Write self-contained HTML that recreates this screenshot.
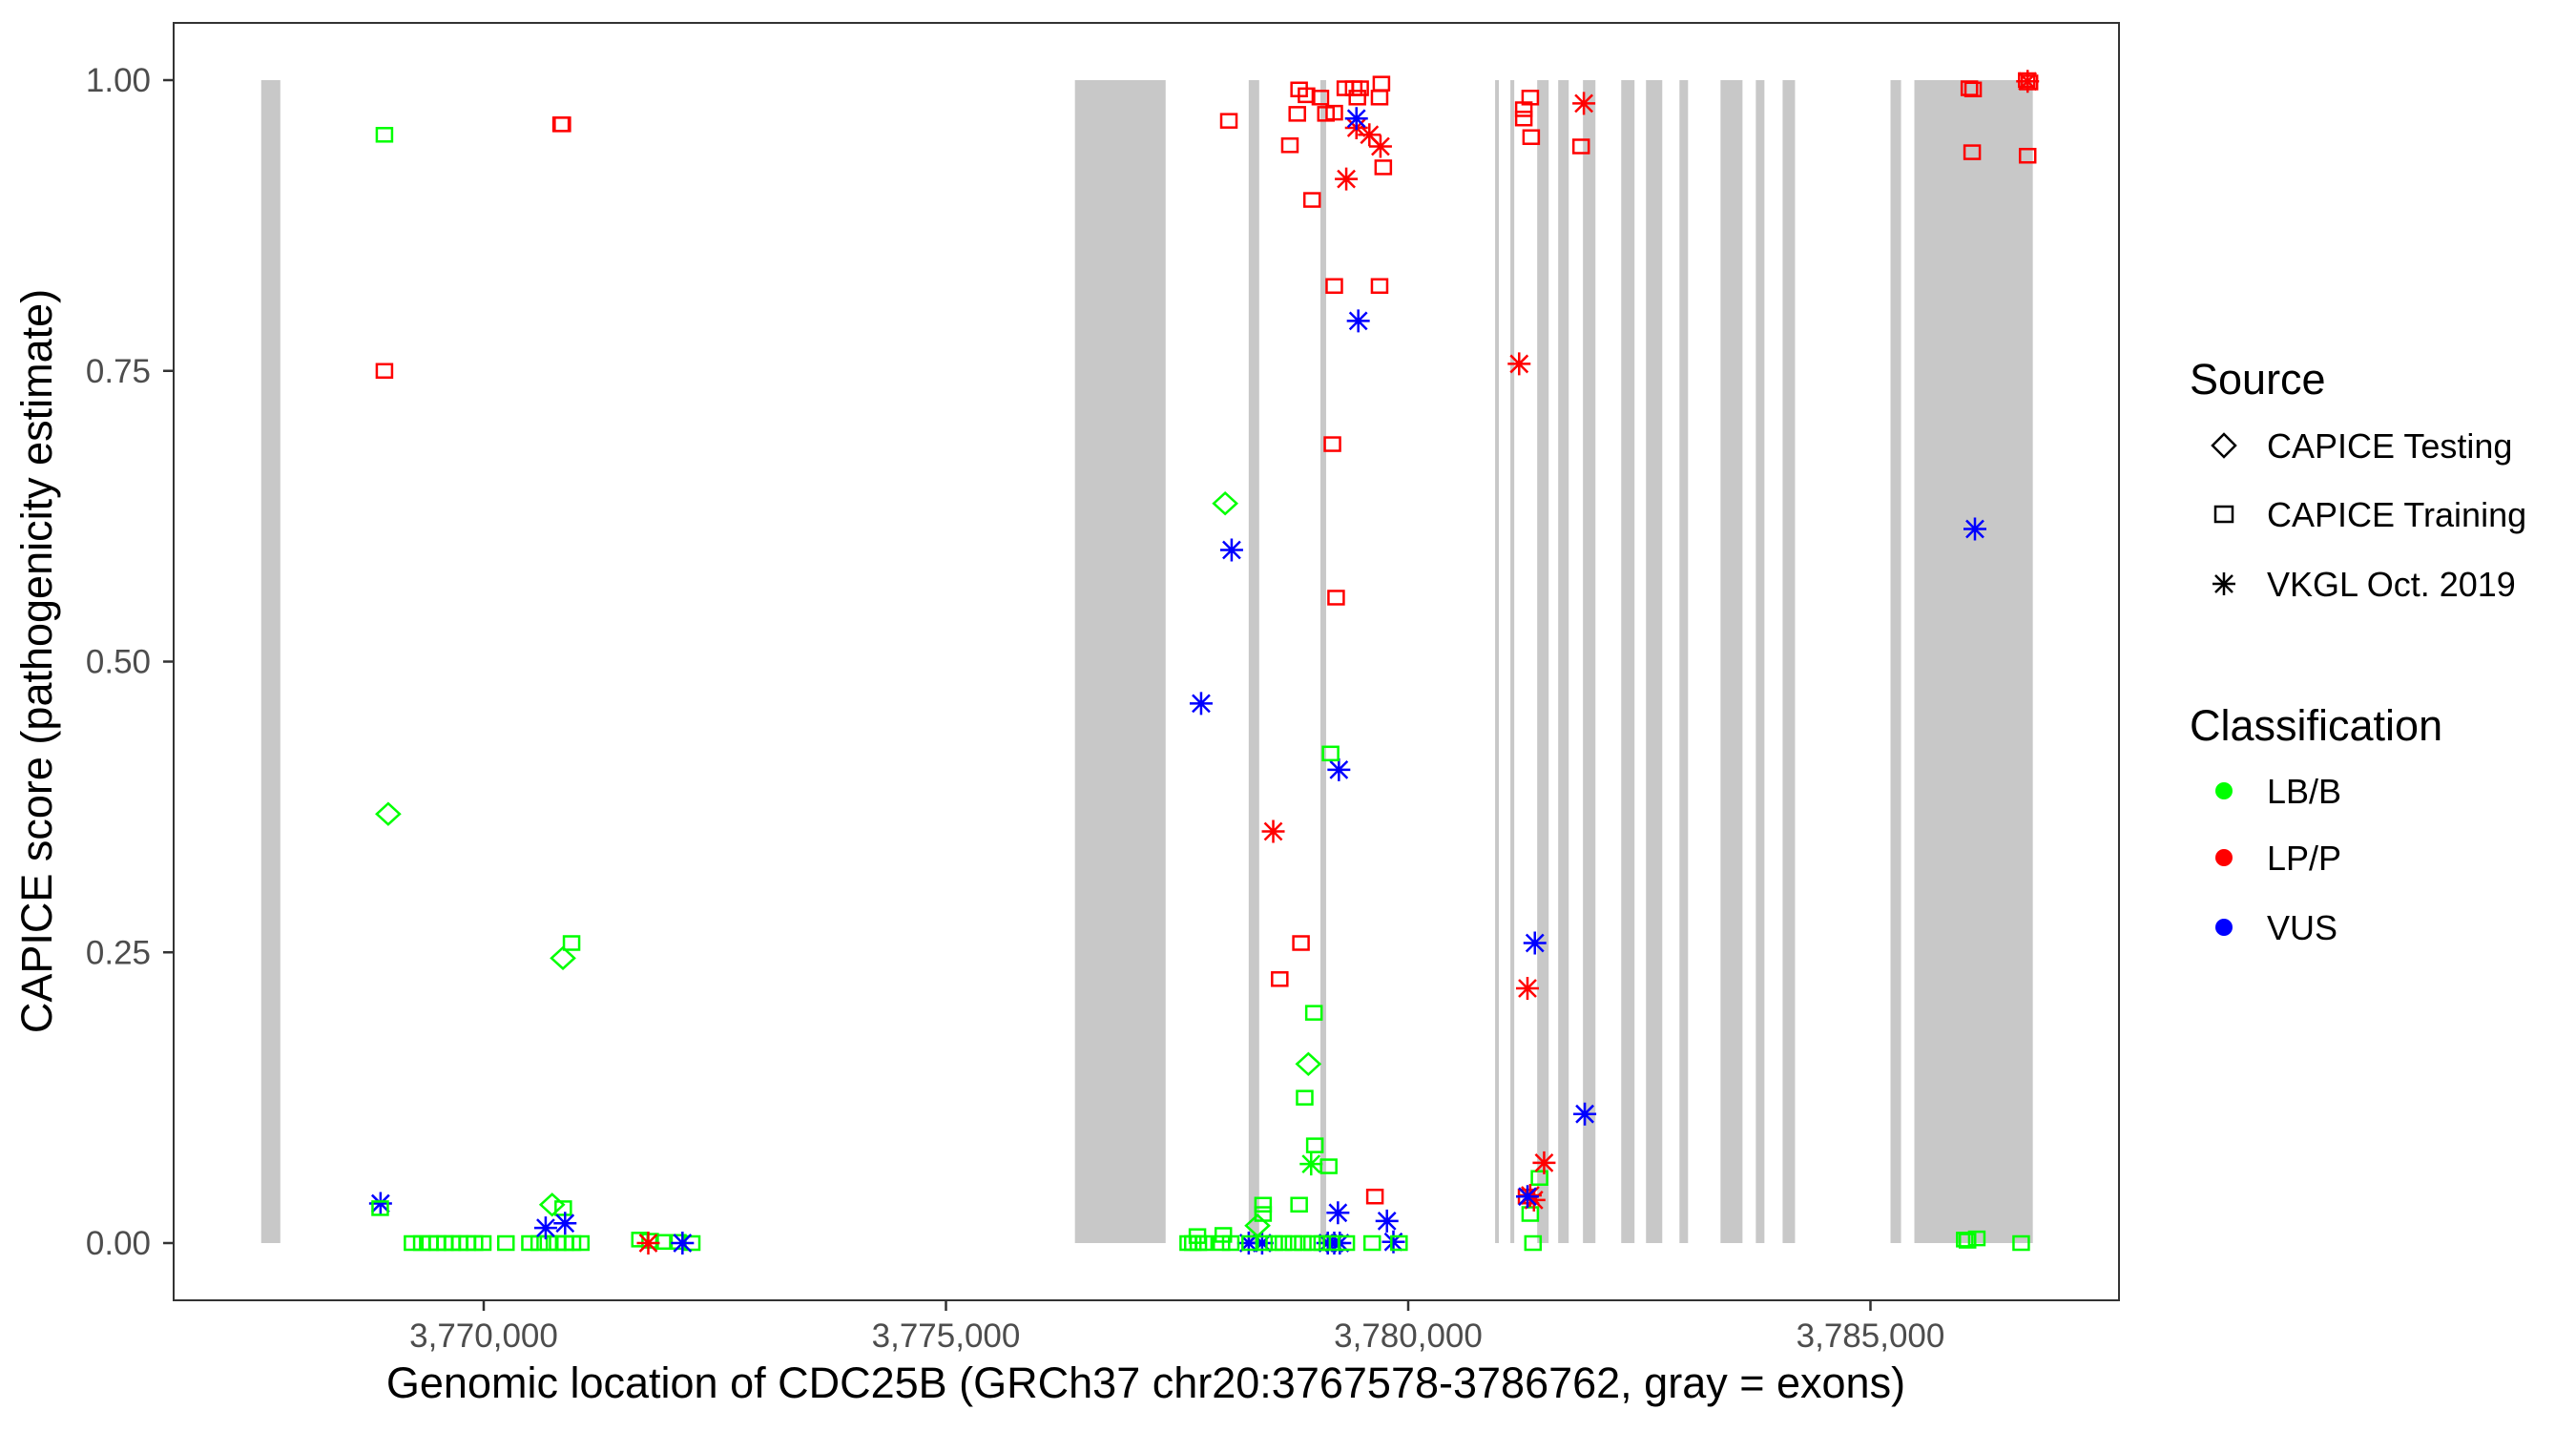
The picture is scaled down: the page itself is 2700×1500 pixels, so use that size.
<!DOCTYPE html>
<html><head><meta charset="utf-8">
<style>
html,body{margin:0;padding:0;background:#fff;}
svg{display:block;font-family:"Liberation Sans",Arial,sans-serif;}
</style></head>
<body>
<svg id="chart" width="2700" height="1500" viewBox="0 0 2700 1500" xmlns="http://www.w3.org/2000/svg">
<rect x="0" y="0" width="2700" height="1500" fill="#fff"/>
<g id="exons"></g>
<g id="points"></g>
<rect x="182" y="24" width="2039" height="1339" fill="none" stroke="#333" stroke-width="2"/>
<g id="axes"></g>
<text x="1201" y="1465" font-size="45" text-anchor="middle" fill="#000">Genomic location of CDC25B (GRCh37 chr20:3767578-3786762, gray = exons)</text>
<text transform="translate(54,693) rotate(-90)" font-size="45" text-anchor="middle" fill="#000">CAPICE score (pathogenicity estimate)</text>
<g id="legend">
<text x="2295" y="413" font-size="45" fill="#000">Source</text>
<g>
<path d="M2331,455 L2343,467 L2331,479 L2319,467 Z" fill="none" stroke="#000" stroke-width="2.5"/>
<text x="2376" y="480" font-size="36" fill="#000">CAPICE Testing</text></g>
<g>
<rect x="2322" y="531" width="18" height="16" fill="none" stroke="#000" stroke-width="2.5"/>
<text x="2376" y="552" font-size="36" fill="#000">CAPICE Training</text></g>
<g>
<path d="M2319,612 L2343,612 M2331,600 L2331,624 M2322,603 L2340,621 M2340,603 L2322,621" stroke="#000" stroke-width="2.5"/>
<text x="2376" y="625" font-size="36" fill="#000">VKGL Oct. 2019</text></g>
<text x="2295" y="776" font-size="45" fill="#000">Classification</text>
<g>
<circle cx="2331" cy="829" r="9" fill="#00ff00"/><text x="2376" y="842" font-size="36" fill="#000">LB/B</text></g>
<g>
<circle cx="2331" cy="899" r="9" fill="#ff0000"/><text x="2376" y="912" font-size="36" fill="#000">LP/P</text></g>
<g>
<circle cx="2331" cy="972" r="9" fill="#0000ff"/><text x="2376" y="985" font-size="36" fill="#000">VUS</text></g>
</g>
</svg>
<script>
const exonStarts=[3767593,3776395,3778275,3779050,3780940,3781105,3781395,3781622,3781890,3782304,3782572,3782934,3783378,3783760,3784050,3785217,3785475];
const exonEnds=[3767800,3777376,3778388,3779112,3780981,3781147,3781519,3781736,3782025,3782448,3782748,3783027,3783616,3783853,3784184,3785331,3786756];
const xTicks=[3770000,3775000,3780000,3785000];
const xTickLabels=["3,770,000","3,775,000","3,780,000","3,785,000"];
const yTicks=[0,0.25,0.5,0.75,1];
const yTickLabels=["0.00","0.25","0.50","0.75","1.00"];
// points: position, score, source (D=testing, S=training, A=VKGL), class (G=LB/B, R=LP/P, B=VUS)
const pointPos=[3768926,3770837,3770850,3768926,3768967,3770950,3770857,3768884,3768880,
3769230,3769330,3769420,3769500,3769580,3769660,3769740,3769820,3769900,3769990,3770240,
3770500,3770600,3770700,3770800,3770880,3770960,3771050,3770740,3770860,3770670,3770880,
3771690,3771800,3771950,3772100,3772250,3771780,3772150,
3778020,3778090,3777760,3778540,3778060,3778610,
3778820,3778900,3779050,3778800,3779110,3779200,3779320,3779410,3779480,3779450,3779690,3779710,3778720,3779730,3778960,3779200,3779690,3779180,3779220,3778840,3779640,
3779440,3779580,3779700,3779330,
3779440,3779460,3779250,3779240,3779770,3779840,3778275,3778420,3779130,3779200,3779260,
3779160,3778980,3778920,3778880,3778990,3779140,3778950,3778820,3778430,3778430,3778370,
3777620,3777670,3777730,3777790,3777980,3778080,3778290,3778440,3778550,3778650,3778760,3778860,3778960,3779070,3779170,3779330,3779610,3779900,3777720,3778000,
3781420,3781320,3781350,3786020,3786050,3786150,3786630,
3781250,3781250,3781320,3781330,3781870,3781900,3781200,3781290,3781470,3781320,3781360,3781280,
3781370,3781910,3781290,3786130,3786070,3786110,3786100,3786700,3786690,3786720,3786700];
const pointScore=[0.953,0.962,0.962,0.75,0.369,0.258,0.245,0.034,0.03,
0,0,0,0,0,0,0,0,0,0,0,
0,0,0,0,0,0,0,0.033,0.03,0.013,0.017,
0.003,0.002,0.001,0.001,0,0,0,
0.636,0.596,0.464,0.354,0.965,0.227,
0.992,0.987,0.985,0.971,0.971,0.972,0.993,0.993,0.993,0.985,0.985,0.997,0.944,0.925,0.897,0.823,0.823,0.687,0.555,0.258,0.04,
0.959,0.953,0.943,0.915,
0.967,0.793,0.407,0.026,0.019,0.001,0,0,0,0,0,
0.421,0.198,0.154,0.125,0.084,0.066,0.068,0.033,0.033,0.025,0.015,
0,0,0,0,0,0,0,0,0,0,0,0,0,0,0,0,0,0,0.006,0.007,
0.056,0.025,0,0.003,0.002,0.004,0,
0.975,0.967,0.985,0.951,0.943,0.98,0.756,0.219,0.069,0.041,0.037,0.04,
0.258,0.111,0.04,0.614,0.993,0.992,0.938,0.935,1.0,0.998,0.999];
const pointSource=["S","S","S","S","D","S","D","A","S",
"S","S","S","S","S","S","S","S","S","S","S",
"S","S","S","S","S","S","S","D","S","A","A",
"S","S","S","S","S","A","A",
"D","A","A","A","S","S",
"S","S","S","S","S","S","S","S","S","S","S","S","S","S","S","S","S","S","S","S","S",
"A","A","A","A",
"A","A","A","A","A","A","A","A","A","A","A",
"S","S","D","S","S","S","A","S","S","S","D",
"S","S","S","S","S","S","S","S","S","S","S","S","S","S","S","S","S","S","S","S",
"S","S","S","S","S","S","S",
"S","S","S","S","S","A","A","A","A","A","A","S",
"A","A","A","A","S","S","S","S","S","S","A"];
const pointClass=["G","R","R","R","G","G","G","B","G",
"G","G","G","G","G","G","G","G","G","G","G",
"G","G","G","G","G","G","G","G","G","B","B",
"G","G","G","G","G","R","B",
"G","B","B","R","R","R",
"R","R","R","R","R","R","R","R","R","R","R","R","R","R","R","R","R","R","R","R","R",
"R","R","R","R",
"B","B","B","B","B","B","B","B","B","B","B",
"G","G","G","G","G","G","G","G","G","G","G",
"G","G","G","G","G","G","G","G","G","G","G","G","G","G","G","G","G","G","G","G",
"G","G","G","G","G","G","G",
"R","R","R","R","R","R","R","R","R","R","R","R",
"B","B","B","B","R","R","R","R","R","R","R"];

const NS="http://www.w3.org/2000/svg";
const X0=3770000, XPX0=507, PXPERBP=484.5/5000;
function xs(v){return XPX0+(v-X0)*PXPERBP;}
function ys(v){return 1303-1219*v;}
const colors={G:"#00ff00",R:"#ff0000",B:"#0000ff"};
function mk(tag,attrs,parent){const e=document.createElementNS(NS,tag);for(const k in attrs)e.setAttribute(k,attrs[k]);parent.appendChild(e);return e;}

const exG=document.getElementById('exons');
for(let i=0;i<exonStarts.length;i++){
  const r=mk('rect',{x:xs(exonStarts[i]),y:ys(1),width:Math.max(xs(exonEnds[i])-xs(exonStarts[i]),3),height:ys(0)-ys(1),fill:"#c8c8c8"},exG);
  
  
}
const ax=document.getElementById('axes');
for(let i=0;i<xTicks.length;i++){
  const x=xs(xTicks[i]);
  const t=mk('line',{x1:x,x2:x,y1:1363,y2:1374,stroke:"#333","stroke-width":2.5},ax);
  
  
  const l=mk('text',{x:x,y:1412,"font-size":35,"text-anchor":"middle",fill:"#4d4d4d"},ax);
  l.textContent=xTickLabels[i];
  
  
}
for(let i=0;i<yTicks.length;i++){
  const y=ys(yTicks[i]);
  const t=mk('line',{x1:171,x2:182,y1:y,y2:y,stroke:"#333","stroke-width":2.5},ax);
  
  
  const l=mk('text',{x:158,y:y+12,"font-size":35,"text-anchor":"end",fill:"#4d4d4d"},ax);
  l.textContent=yTickLabels[i];
  
  
}
const pg=document.getElementById('points');
for(let i=0;i<pointPos.length;i++){
  const x=xs(pointPos[i]), y=ys(pointScore[i]), c=colors[pointClass[i]], s=pointSource[i];
  let e;
  if(s==="S"){
    e=mk('rect',{x:x-8,y:y-7,width:16,height:14,fill:"none",stroke:c,"stroke-width":2.5},pg);
  }else if(s==="D"){
    e=mk('path',{d:`M${x},${y-11} L${x+12},${y} L${x},${y+11} L${x-12},${y} Z`,fill:"none",stroke:c,"stroke-width":2.5},pg);
  }else{
    e=mk('path',{d:`M${x-12},${y} L${x+12},${y} M${x},${y-12} L${x},${y+12} M${x-9},${y-9} L${x+9},${y+9} M${x+9},${y-9} L${x-9},${y+9}`,stroke:c,"stroke-width":2.5},pg);
  }
  
  
}
</script>
</body></html>
